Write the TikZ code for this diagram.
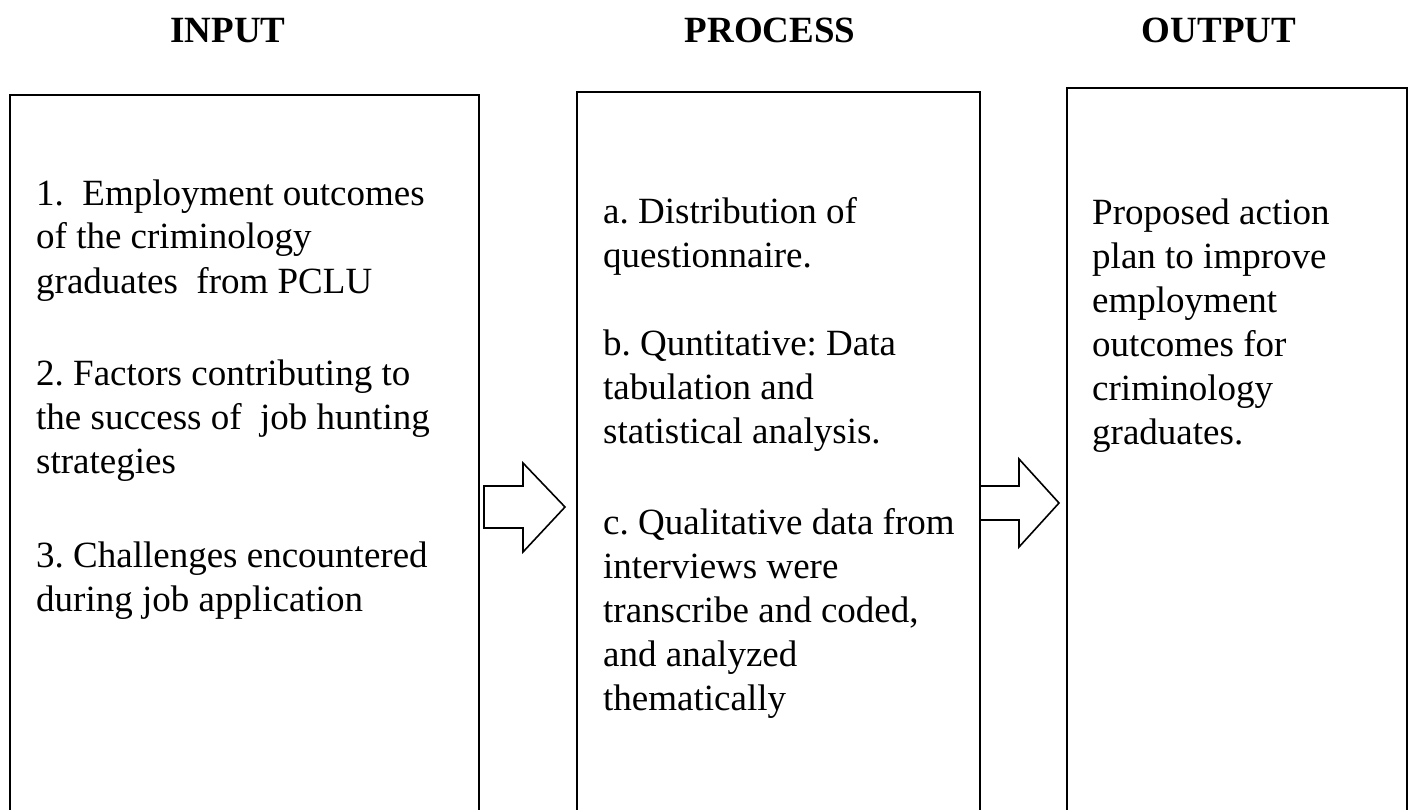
\documentclass[tikz,border=0pt]{standalone}
\usepackage{fontspec}
\setmainfont{Liberation Serif}
\frenchspacing
\tikzset{
  frame/.style={draw, line width=1.6pt, rectangle, inner sep=0pt},
  head/.style={anchor=base, font=\fontsize{37}{44}\bfseries\selectfont},
  item/.style={anchor=base west, align=left, inner sep=0pt, font=\fontsize{37}{44}\selectfont},
  blockarrow/.style={draw, line width=1.6pt, line join=miter}
}
\begin{document}
\begin{tikzpicture}[x=1pt,y=-1pt]
\useasboundingbox (0,0) rectangle (1410,810);
\clip (0,0) rectangle (1410,810);
% headings
\node (intitle) at (228,43) [head] {INPUT};
\node (proctitle) at (770,43) [head] {PROCESS};
\node (outtitle) at (1219,43) [head] {OUTPUT};
% the three columns, cut off at the bottom
\node (inbox) at (244.5,462.5) [frame, minimum width=469, minimum height=735] {};
\node (procbox) at (778.5,461) [frame, minimum width=403, minimum height=738] {};
\node (outbox) at (1237,459) [frame, minimum width=340, minimum height=742] {};
% input (placed by the baseline of the last line)
\node (in1) at (36,293) [item] {1.\ \ Employment outcomes\\of the criminology\\graduates\ \ from PCLU};
\node (in2) at (36,473) [item] {2. Factors contributing to\\the success of\ \ job hunting\\strategies};
\node (in3) at (36,611) [item] {3. Challenges encountered\\during job application};
% process
\node (proc1) at (603,268) [item] {a. Distribution of\\questionnaire.};
\node (proc2) at (603,443) [item] {b. Quntitative: Data\\tabulation and\\statistical analysis.};
\node (proc3) at (603,710) [item] {c. Qualitative data from\\interviews were\\transcribe and coded,\\and analyzed\\thematically};
% output
\node (out1) at (1092,444) [item] {Proposed action\\plan to improve\\employment\\outcomes for\\criminology\\graduates.};
% block arrows
\coordinate (arrA) at (484,507);
\coordinate (arrB) at (980,503);
\draw[blockarrow] (arrA) ++(0,-21) -- ++(39,0) -- ++(0,-23) -- ++(42,44) -- ++(-42,45) -- ++(0,-24) -- ++(-39,0) -- cycle;
\draw[blockarrow] (arrB) ++(0,-17) -- ++(39,0) -- ++(0,-27) -- ++(40,44) -- ++(-40,44) -- ++(0,-27) -- ++(-39,0) -- cycle;
\end{tikzpicture}
\end{document}
